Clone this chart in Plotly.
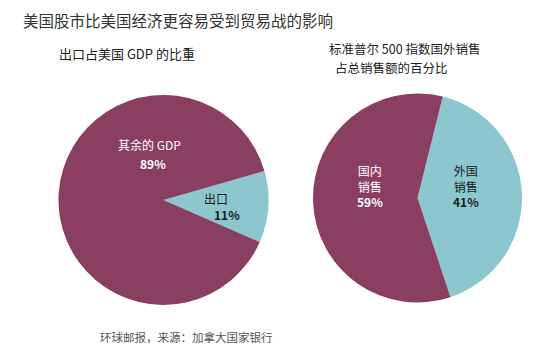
import plotly.graph_objects as go

W, H = 553, 352

# Data
gdp_labels = ["出口", "其余的 GDP"]
gdp_values = [11, 89]
sp_labels = ["外国<br>销售", "国内<br>销售"]
sp_values = [41, 59]

title_text = "美国股市比美国经济更容易受到贸易战的影响"
sub_left = "出口占美国 GDP 的比重"
sub_right_1 = "标准普尔 500 指数国外销售"
sub_right_2 = "占总销售额的百分比"
footer = "环球邮报，来源：加拿大国家银行"

MAROON = "#8a3e60"
LBLUE = "#8cc7d0"
FONT = "Noto Sans CJK SC"


def dom_x(cx, r):
    return [(cx - r) / W, (cx + r) / W]


def dom_y(cy, r):
    return [(H - cy - r) / H, (H - cy + r) / H]


fig = go.Figure()
fig.add_trace(go.Pie(
    labels=gdp_labels, values=gdp_values, sort=False, direction="clockwise",
    rotation=74, marker=dict(colors=[LBLUE, MAROON], line=dict(width=0)),
    textinfo="none", hoverinfo="label+percent", showlegend=False,
    domain=dict(x=dom_x(163.5, 105), y=dom_y(200, 105)),
))
fig.add_trace(go.Pie(
    labels=sp_labels, values=sp_values, sort=False, direction="clockwise",
    rotation=14, marker=dict(colors=[LBLUE, MAROON], line=dict(width=0)),
    textinfo="none", hoverinfo="label+percent", showlegend=False,
    domain=dict(x=dom_x(417.5, 104.5), y=dom_y(198, 104.5)),
))


def ann(text, x, y, size, color, xanchor="center", bold=False, align="center"):
    if bold:
        text = "<b>" + text + "</b>"
    fig.add_annotation(text=text, x=x / W, y=1 - y / H, xref="paper", yref="paper",
                       showarrow=False, xanchor=xanchor, yanchor="middle", align=align,
                       font=dict(family=FONT, size=size, color=color))


ann(title_text, 21, 20, 15.5, "#333333", xanchor="left")
ann(sub_left, 127, 53, 13, "#222222")
ann(sub_right_1, 404, 49, 12.5, "#222222")
ann(sub_right_2, 391, 68, 12.5, "#222222")
ann(footer, 186, 337, 11.5, "#555555")

# slice labels
ann(gdp_labels[1], 149, 145, 12, "white")
ann(f"{gdp_values[1]}%", 153, 163, 12, "white", bold=True)
ann(gdp_labels[0], 216, 198, 12, "#1a1a1a")
ann(f"{gdp_values[0]}%", 227, 214, 12, "#1a1a1a", bold=True)

ann(sp_labels[1] + f"<br><b>{sp_values[1]}%</b>", 370, 186, 12, "white")
ann(sp_labels[0] + f"<br><b>{sp_values[0]}%</b>", 466, 186, 12, "#1a1a1a")

fig.update_layout(width=W, height=H, margin=dict(l=0, r=0, t=0, b=0),
                  paper_bgcolor="white", plot_bgcolor="white")
fig.write_html("out.html")
